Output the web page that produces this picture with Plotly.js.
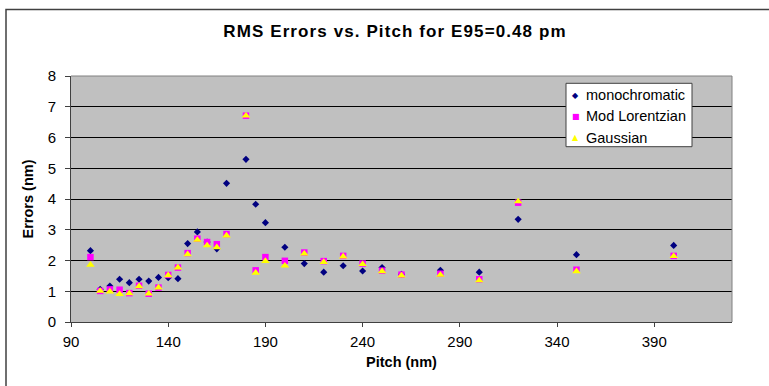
<!DOCTYPE html>
<html>
<head>
<meta charset="utf-8">
<script src="https://cdn.plot.ly/plotly-3.0.1.min.js"></script>
<style>
  html, body { margin: 0; padding: 0; background: #ffffff; }
  #chart { width: 769px; height: 386px; }
  .gtitle { letter-spacing: 1.1px; }
</style>
</head>
<body>
<div id="chart"></div>
<script>
// ---- data ----
const pitch = [100,105,110,115,120,125,130,135,140,145,150,155,160,165,170,180,185,190,200,210,220,230,240,250,260,280,300,320,350,400];
const monochromatic = [2.32,1.06,1.17,1.39,1.28,1.39,1.33,1.45,1.44,1.41,2.55,2.93,2.60,2.38,4.51,5.29,3.83,3.23,2.43,1.90,1.62,1.83,1.66,1.77,1.55,1.68,1.62,3.34,2.19,2.49];
const modLorentzian = [2.11,1.01,1.06,1.05,0.94,1.18,0.92,1.12,1.53,1.77,2.24,2.71,2.60,2.53,2.86,6.71,1.68,2.11,1.99,2.26,1.98,2.15,1.90,1.67,1.54,1.57,1.39,3.88,1.70,2.15];
const gaussian = [1.86,1.01,0.99,0.91,0.93,1.16,0.92,1.12,1.52,1.77,2.20,2.67,2.49,2.43,2.81,6.71,1.60,1.98,1.83,2.22,1.95,2.13,1.88,1.65,1.51,1.53,1.35,3.92,1.65,2.14];
const seriesNames = ['monochromatic','Mod Lorentzian','Gaussian'];
const seriesColors = ['#000080','#FF00FF','#FFFF00'];
const seriesSymbols = ['diamond','square','triangle-up'];
const legendGlyphs = ['\u25C6','\u25A0','\u25B2'];
const xTicks = [90,140,190,240,290,340,390];
const yTicks = [0,1,2,3,4,5,6,7,8];

const FONT = 'Liberation Sans, Arial, sans-serif';
const W = 769, H = 386;
const M = {l: 71, r: 37, t: 76, b: 64};
const pw = W - M.l - M.r, ph = H - M.t - M.b;
const px = v => (v - M.l) / pw;          // pixel -> paper x
const py = v => (H - M.b - v) / ph;      // pixel -> paper y

const values = [monochromatic, modLorentzian, gaussian];
const sizes = [5.5, 6.5, 7.5];
const traces = values.map((vals, i) => ({
  type: 'scatter', mode: 'markers', x: pitch, y: vals, name: seriesNames[i],
  showlegend: false, cliponaxis: false,
  marker: {symbol: seriesSymbols[i], color: seriesColors[i], size: sizes[i], line: {width: 0}}
}));

// manual legend (box + glyphs + labels)
const legX0 = 566, legX1 = 692, legY0 = 83.3, legY1 = 146.7;
const rowY = [95, 116, 137.5];
const annotations = [];
seriesNames.forEach((n, i) => {
  annotations.push({xref: 'paper', yref: 'paper', x: px(575.5), y: py(rowY[i]), xanchor: 'center', yanchor: 'middle',
    text: legendGlyphs[i], showarrow: false, font: {family: 'DejaVu Sans', size: 8, color: seriesColors[i]}});
  annotations.push({xref: 'paper', yref: 'paper', x: px(584), y: py(rowY[i]), xanchor: 'left', yanchor: 'middle',
    text: n, showarrow: false, font: {family: FONT, size: 14.5, color: '#000'}});
});

const shapes = [
  // outer chart border (only left/top visible)
  {type: 'rect', xref: 'paper', yref: 'paper', x0: px(6), x1: px(800), y0: py(420), y1: py(9.5),
   line: {color: '#404040', width: 1.5}, fillcolor: 'rgba(0,0,0,0)', layer: 'below'},
  // plot area top and right border
  {type: 'line', xref: 'paper', yref: 'paper', x0: 0, x1: 1, y0: 1, y1: 1, line: {color: '#808080', width: 1}, layer: 'above'},
  {type: 'line', xref: 'paper', yref: 'paper', x0: 1, x1: 1, y0: 0, y1: 1, line: {color: '#808080', width: 1}, layer: 'above'},
  // legend box
  {type: 'rect', xref: 'paper', yref: 'paper', x0: px(legX0), x1: px(legX1), y0: py(legY1), y1: py(legY0),
   line: {color: '#404040', width: 1}, fillcolor: '#FFFFFF', layer: 'above'}
];

const layout = {
  width: W, height: H,
  margin: M,
  paper_bgcolor: '#FFFFFF',
  plot_bgcolor: '#C0C0C0',
  font: {family: FONT, size: 15, color: '#000'},
  title: {text: 'RMS Errors vs. Pitch for E95=0.48 pm', font: {family: FONT, size: 17, weight: 700, color: '#000'},
          xref: 'container', x: 395 / W, xanchor: 'center', yref: 'container', y: 1 - 31 / H, yanchor: 'middle'},
  xaxis: {
    range: [90, 430], tickmode: 'array', tickvals: xTicks, ticktext: xTicks.map(String),
    showgrid: false, zeroline: false, showline: true, linecolor: '#404040', linewidth: 1,
    ticks: 'outside', ticklen: 4, tickcolor: '#404040', tickwidth: 1, ticklabelstandoff: 2,
    tickfont: {family: FONT, size: 15, color: '#000'},
    title: {text: 'Pitch (nm)', font: {family: FONT, size: 14.5, weight: 700, color: '#000'}, standoff: 7}
  },
  yaxis: {
    range: [0, 8], tickmode: 'array', tickvals: yTicks, ticktext: yTicks.map(String),
    showgrid: true, gridcolor: '#000000', gridwidth: 1, zeroline: false,
    showline: true, linecolor: '#404040', linewidth: 1,
    ticks: 'outside', ticklen: 5, tickcolor: '#404040', tickwidth: 1, ticklabelstandoff: 6,
    tickfont: {family: FONT, size: 15, color: '#000'},
    title: {text: 'Errors (nm)', font: {family: FONT, size: 14.5, weight: 700, color: '#000'}, standoff: 10}
  },
  shapes: shapes,
  annotations: annotations,
  showlegend: false
};

Plotly.newPlot('chart', traces, layout, {staticPlot: true, displayModeBar: false});
</script>
</body>
</html>
